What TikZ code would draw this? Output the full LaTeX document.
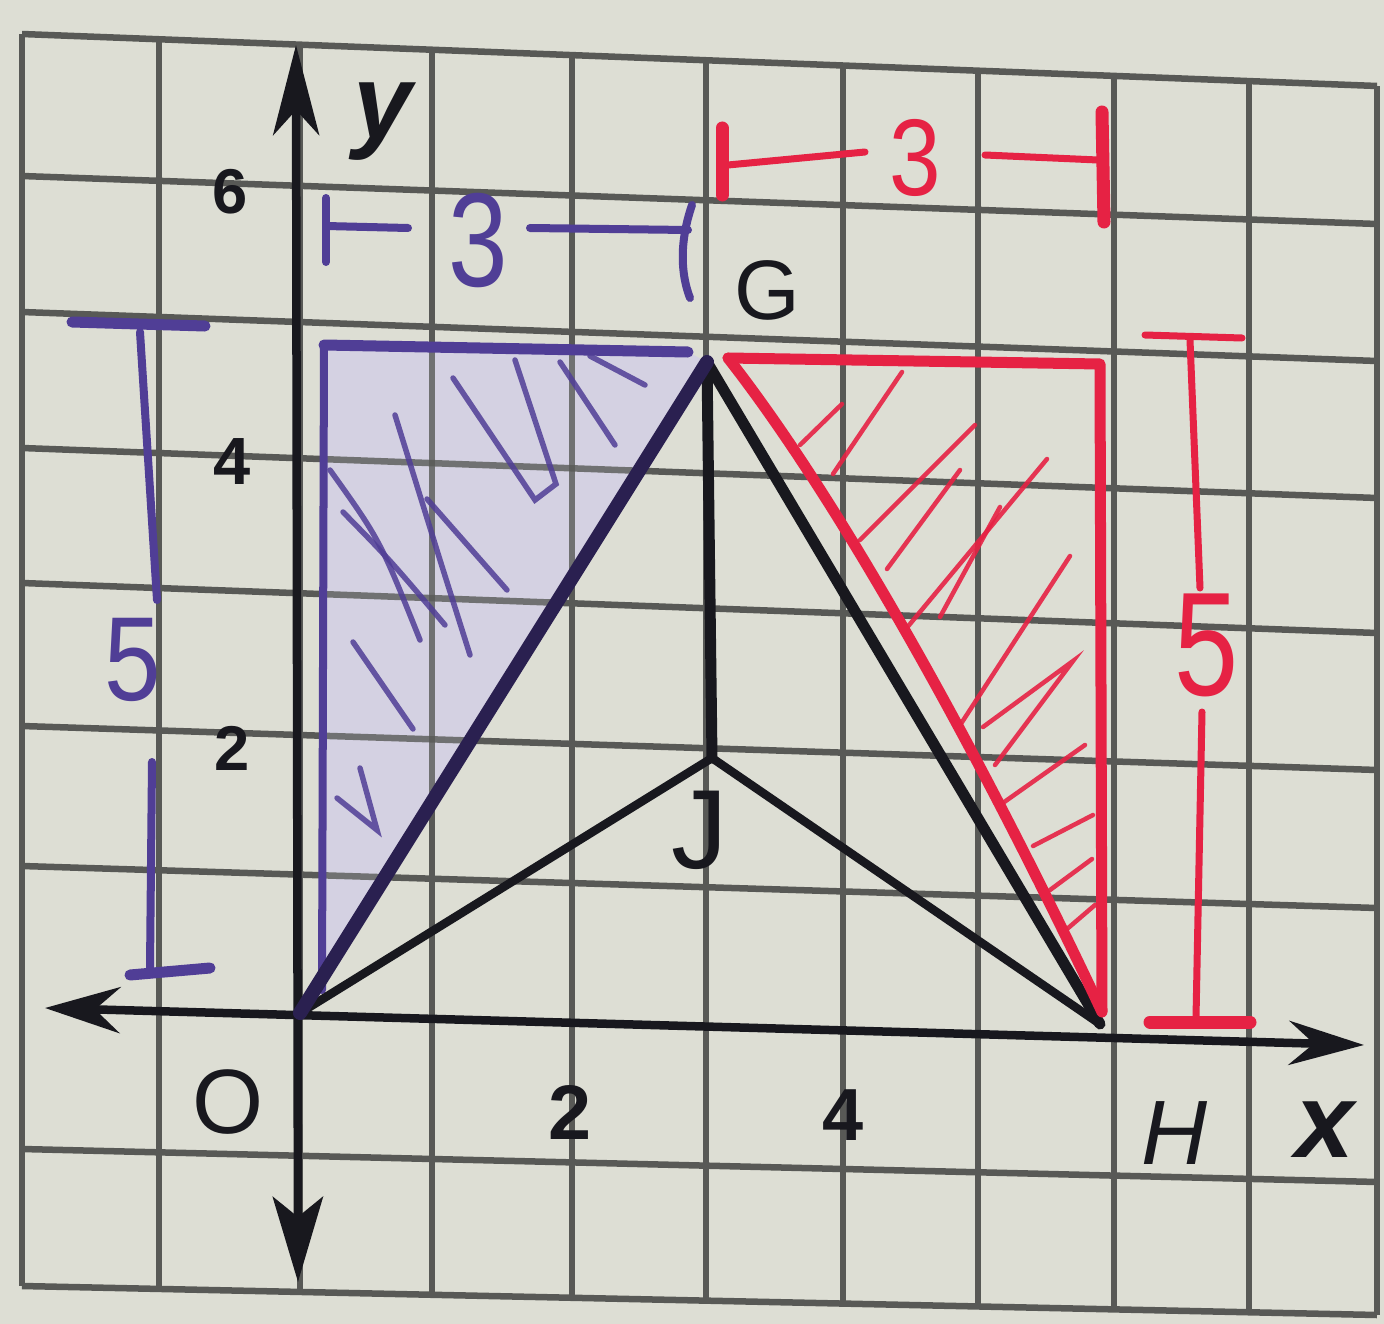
\documentclass[tikz,border=0pt]{standalone}
\usepackage{fontspec}
\setmainfont{Liberation Sans}
\usetikzlibrary{arrows.meta}
\definecolor{paper}{RGB}{221,222,212}
\definecolor{gridc}{RGB}{88,89,86}
\definecolor{inkblue}{RGB}{80,62,150}
\definecolor{lavender}{RGB}{212,209,226}
\definecolor{inkred}{RGB}{230,34,68}
\definecolor{ink}{RGB}{24,24,30}
\definecolor{navy}{RGB}{42,32,80}
\begin{document}
\begin{tikzpicture}[x=0.01cm,y=-0.01cm,
  gridline/.style={draw=gridc,line width=0.065cm},
  axisline/.style={draw=ink,line width=0.085cm},
  blk/.style={draw=ink,line width=0.085cm,line cap=round},
  blkthick/.style={draw=ink,line width=0.11cm,line cap=round},
  navyline/.style={draw=navy,line width=0.14cm,line cap=round},
  blueline/.style={draw=inkblue,line width=0.08cm,line cap=round,line join=round},
  bluebar/.style={draw=inkblue,line width=0.11cm,line cap=round},
  bluehatch/.style={draw=inkblue,line width=0.055cm,line cap=round,opacity=0.85},
  redline/.style={draw=inkred,line width=0.11cm,line cap=round,line join=round},
  redthin/.style={draw=inkred,line width=0.07cm,line cap=round},
  redbar/.style={draw=inkred,line width=0.13cm,line cap=round},
  redhatch/.style={draw=inkred,line width=0.045cm,line cap=round,opacity=0.9},
  lbl/.style={text=ink,inner sep=0pt},
  fs/.style={font=\fontsize{#1}{#1}\selectfont},
  fsb/.style={font=\fontsize{#1}{#1}\selectfont\bfseries},
  fsi/.style={font=\fontsize{#1}{#1}\selectfont\itshape}
]
\fill[paper] (0,0) rectangle (1384,1324);
\useasboundingbox (0,0) rectangle (1384,1324);

% grid
\foreach \x in {22,159,300,432,572,706,843,978,1114,1249,1377}
  \draw[gridline] (\x,{34+(\x-22)*0.0384}) -- (\x,{1286+(\x-22)*0.0214});
\foreach \a/\b in {34/86,176/224,312/361,448/498,583/633,726/770,866/908,1149/1182,1286/1315}
  \draw[gridline] (22,\a) -- (1377,\b);

% key points
\coordinate (O) at (300,1013);
\coordinate (G) at (707,362);
\coordinate (J) at (712,758);
\coordinate (H) at (1100,1024);

% axes
\coordinate (yT) at (296,45);
\coordinate (yB) at (298,1282);
\coordinate (xL) at (45,1008);
\coordinate (xR) at (1364,1045);
\draw[axisline,{Stealth[length=9mm,width=4.6mm,inset=2.5mm]}-{Stealth[length=8.5mm,width=5mm,inset=2mm]}] (yT) -- (yB);
\draw[axisline,{Stealth[length=7.5mm,width=4.6mm,inset=2.5mm]}-{Stealth[length=7.5mm,width=4.4mm,inset=2.5mm]}] (xL) -- (xR);

% blue triangle
\coordinate (BT) at (324,345);
\coordinate (BR) at (688,352);
\coordinate (BB) at (322,990);
\fill[lavender] (O) -- (BB) -- (BT) -- (BR) -- (G) -- cycle;
\begin{scope}
  \clip (O) -- (BB) -- (BT) -- (BR) -- (G) -- cycle;
  \foreach \a/\b in {34/86,176/224,312/361,448/498,583/633,726/770,866/908}
    \draw[gridline,opacity=0.8] (22,\a) -- (1377,\b);
  \foreach \x in {432,572}
    \draw[gridline,opacity=0.8] (\x,0) -- (\x,1300);
  \draw[bluehatch] (395,415) -- (440,560) -- (470,655);
  \draw[bluehatch] (343,512) .. controls (390,560) .. (445,625);
  \draw[bluehatch] (353,642) -- (413,729);
  \draw[bluehatch] (453,378) -- (535,500) -- (556,484) -- (515,360);
  \draw[bluehatch] (560,362) -- (615,445);
  \draw[bluehatch] (590,356) -- (645,385);
  \draw[bluehatch] (427,499) -- (507,590);
  \draw[bluehatch] (360,768) -- (377,830) -- (337,798);
  \draw[bluehatch] (330,470) .. controls (380,540) .. (420,640);
\end{scope}
\draw[blueline] (BB) -- (BT);
\draw[bluebar] (BT) -- (BR);

% red triangle
\coordinate (RG) at (728,358);
\coordinate (RT) at (1100,364);
\coordinate (RB) at (1102,1012);
\begin{scope}
  \clip (RG) -- (RT) -- (RB) .. controls (1005,805) and (855,520) .. (RG) -- cycle;
  \draw[redhatch] (800,445) -- (842,404);
  \draw[redhatch] (833,474) -- (902,372);
  \draw[redhatch] (860,540) -- (975,425);
  \draw[redhatch] (887,569) -- (960,470);
  \draw[redhatch] (905,630) -- (1047,459);
  \draw[redhatch] (940,617) -- (1000,507);
  \draw[redhatch] (953,736) -- (1070,556);
  \draw[redhatch] (983,727) -- (1073,661) -- (995,765);
  \draw[redhatch] (1000,805) -- (1085,745);
  \draw[redhatch] (1033,846) -- (1093,815);
  \draw[redhatch] (1050,890) -- (1092,859);
  \draw[redhatch] (1060,935) -- (1095,905);
\end{scope}

% black segments
\draw[blk] (O) -- (J) -- (H);
\draw[blkthick] (G) -- (J);
\draw[blkthick] (G) -- (H);
\draw[navyline] (O) -- (G);

% red triangle edges
\draw[redline] (RG) -- (RT) -- (RB);
\draw[redline] (RG) .. controls (855,520) and (1005,805) .. (RB);

% labels
\node[lbl,fsb=18] (l6) at (230,192) {6};
\node[lbl,fsb=19] (l4y) at (232,462) {4};
\node[lbl,fsb=18] (l2y) at (232,748) {2};
\node[lbl,fs=26] (lO) at (228,1102) {O};
\node[lbl,fsb=22] (l2x) at (570,1112) {2};
\node[lbl,fsb=21] (l4x) at (843,1115) {4};
\node[lbl,fsi=26] (lH) at (1175,1133) {H};
\node[lbl,font=\fontsize{30}{30}\selectfont\itshape\bfseries] (lx) at (1325,1130) {x};
\node[lbl,font=\fontsize{30}{30}\selectfont\itshape\bfseries] (ly) at (383,122) {y};
\node[lbl,fs=24] (lG) at (767,290) {G};
\node[lbl,fs=32] (lJ) at (700,830) {J};

% blue dimension 3
\node[lbl,text=inkblue,fs=38,xscale=0.8] (b3) at (478,240) {3};
\coordinate (b3L) at (326,226);
\coordinate (b3R) at (688,230);
\draw[blueline] (326,198) -- (326,262);
\draw[blueline] (692,205) .. controls (680,240) and (680,272) .. (690,298);
\draw[blueline] (b3L) -- (408,228);
\draw[blueline] (530,228) -- (b3R);

% blue dimension 5
\node[lbl,text=inkblue,fs=34,xscale=0.85] (b5) at (133,660) {5};
\draw[bluebar] (72,322) -- (205,326);
\draw[blueline] (140,332) -- (157,600);
\draw[blueline] (152,762) -- (150,968);
\draw[bluebar] (130,975) -- (210,968);

% red dimension 3
\node[lbl,text=inkred,fs=31,xscale=0.85] (r3) at (915,158) {3};
\draw[redbar] (722,128) -- (722,195);
\draw[redbar] (1102,112) -- (1104,222);
\draw[redthin] (728,165) -- (865,152);
\draw[redthin] (985,155) -- (1098,160);

% red dimension 5
\node[lbl,text=inkred,fs=42,xscale=0.78] (r5) at (1207,645) {5};
\draw[redthin] (1145,335) -- (1242,338);
\draw[redthin] (1190,340) -- (1200,588);
\draw[redthin] (1202,712) -- (1196,1018);
\draw[redbar] (1150,1022) -- (1250,1022);
\end{tikzpicture}
\end{document}
